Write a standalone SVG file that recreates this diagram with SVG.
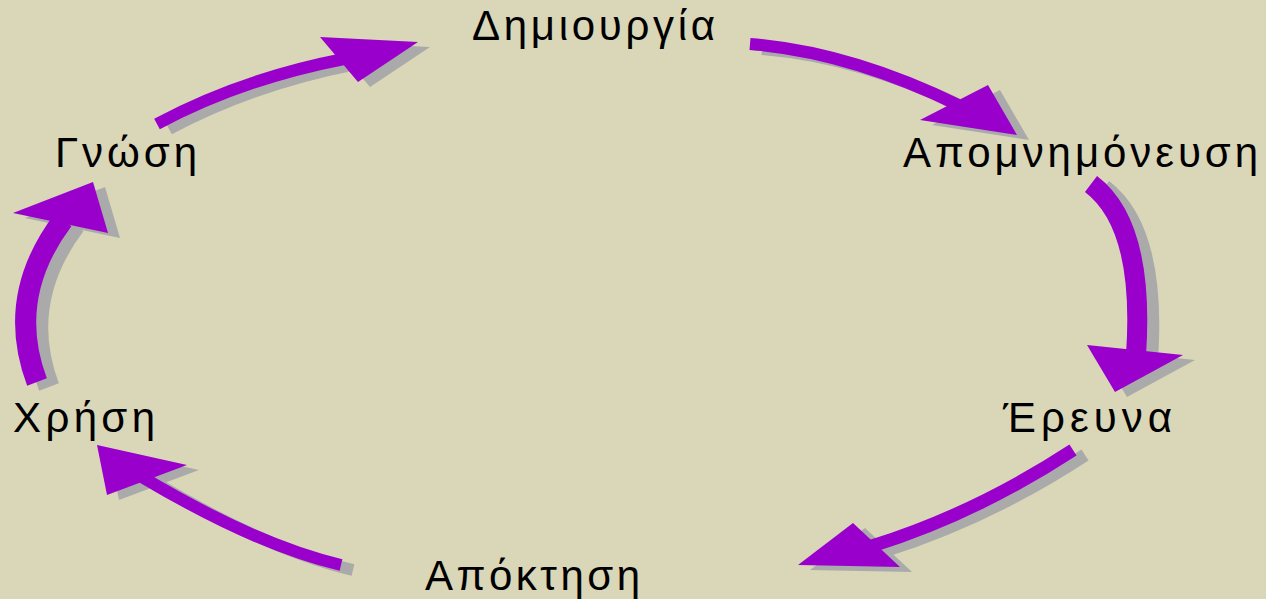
<svg xmlns="http://www.w3.org/2000/svg" xmlns:xlink="http://www.w3.org/1999/xlink" width="1266" height="599" viewBox="0 0 1266 599">
<style>
.lbl{font-family:"Liberation Sans","DejaVu Sans",sans-serif;font-size:42px;fill:#000}
.fg{fill:#9900CC;stroke:#9900CC}
.sh{fill:#AAAAAA;stroke:#AAAAAA}
.shaft{fill:none}
.head{stroke:none}
</style>
<defs>
<g id="a1"><path class="shaft" d="M157,124 Q241,79 344,59" stroke-width="12"/><polygon class="head" points="320,37 418,42 358,82"/></g>
<g id="a2"><path class="shaft" d="M750,44 Q850,52 958,105" stroke-width="12"/><polygon class="head" points="920,120 988,85 1017,135"/></g>
<g id="a3"><path class="shaft" d="M1091,184 Q1145,225 1136,355" stroke-width="20"/><polygon class="head" points="1087,345 1183,355 1115,392"/></g>
<g id="a4"><path class="shaft" d="M1073,450 Q975,514 872,546" stroke-width="13"/><polygon class="head" points="853,523 900,567 798,565"/></g>
<g id="a5"><path class="shaft" d="M341,565 Q256,545 142,477" stroke-width="12"/><polygon class="head" points="97,445 187,465 107,495"/></g>
<g id="a6"><path class="shaft" d="M37,382 Q5,297 63,220" stroke-width="21"/><polygon class="head" points="13,213 93,182 108,233"/></g>
</defs>
<rect width="1266" height="599" fill="#DAD6B8"/>
<g id="connectors">
<g id="arrow-gnosi-dimiourgia"><use xlink:href="#a1" class="sh" transform="translate(12,5)"/><use xlink:href="#a1" class="fg"/></g>
<g id="arrow-dimiourgia-apomnimoneysi"><use xlink:href="#a2" class="sh" transform="translate(12,5)"/><use xlink:href="#a2" class="fg"/></g>
<g id="arrow-apomnimoneysi-ereyna"><use xlink:href="#a3" class="sh" transform="translate(12,5)"/><use xlink:href="#a3" class="fg"/></g>
<g id="arrow-ereyna-apoktisi"><use xlink:href="#a4" class="sh" transform="translate(12,5)"/><use xlink:href="#a4" class="fg"/></g>
<g id="arrow-apoktisi-xrisi"><use xlink:href="#a5" class="sh" transform="translate(12,5)"/><use xlink:href="#a5" class="fg"/></g>
<g id="arrow-xrisi-gnosi"><use xlink:href="#a6" class="sh" transform="translate(12,5)"/><use xlink:href="#a6" class="fg"/></g>
</g>
<g id="node-dimiourgia"><text class="lbl" x="472" y="40" textLength="243" lengthAdjust="spacing">Δημιουργία</text></g>
<g id="node-apomnimoneysi"><text class="lbl" x="903" y="167" textLength="355" lengthAdjust="spacing">Απομνημόνευση</text></g>
<g id="node-ereyna"><text class="lbl" x="1003" y="432" textLength="169" lengthAdjust="spacing">Έρευνα</text></g>
<g id="node-apoktisi"><text class="lbl" x="425" y="590" textLength="215" lengthAdjust="spacing">Απόκτηση</text></g>
<g id="node-xrisi"><text class="lbl" x="13" y="432" textLength="142" lengthAdjust="spacing">Χρήση</text></g>
<g id="node-gnosi"><text class="lbl" x="55" y="167" textLength="142" lengthAdjust="spacing">Γνώση</text></g>
</svg>
